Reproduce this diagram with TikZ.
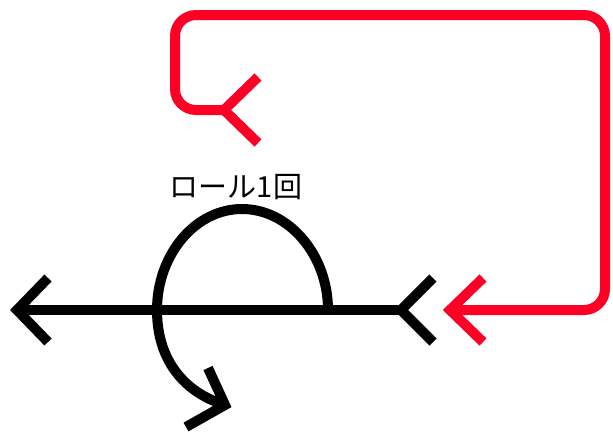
\documentclass[tikz,border=0pt]{standalone}
\usepackage{fontspec}
\newfontfamily\jpfont{Noto Sans CJK JP}
\usetikzlibrary{positioning}
\definecolor{rollred}{RGB}{252,0,38}

\begin{document}
\begin{tikzpicture}[x=1pt, y=-1pt,
  axis/.style={line width=10pt, draw=black},
  loop/.style={line width=10pt, draw=rollred, rounded corners=21pt},
  barb/.style={line join=miter, miter limit=10},
  lbl/.style={font=\jpfont\fontsize{29}{32}\selectfont, inner sep=0pt}]
\useasboundingbox (0,0) rectangle (613,440);
% roll axis with nose and fletching
\coordinate (nose) at (17,310);
\coordinate (tail) at (401,310);
\draw[axis] (nose) -- (tail);
\draw[axis, barb] (48,278) -- (nose) -- (48,342);
\draw[axis, barb] (433,278) -- (tail) -- (433,342);
% one roll
\coordinate (rollA) at (328,310);
\coordinate (rollB) at (157,310);
\coordinate (rollC) at (225,405);
\draw[axis] (rollA) .. controls (328,255) and (289,209) .. (242,209)
  .. controls (195,209) and (157,255) .. (rollB)
  .. controls (157,362) and (186,393) .. (rollC);
\draw[axis, barb] (208,368) -- (rollC) -- (186,427);
\node[lbl] (roll) at (236,187) {ロール1回};
% back to start
\coordinate (redtail) at (224,110);
\coordinate (redtip) at (450,310);
\draw[loop] (redtail) -- (175,110) -- (175,15) -- (605,15) -- (605,310) -- (redtip);
\draw[axis, draw=rollred, barb] (258,77) -- (redtail) -- (258,143);
\draw[axis, draw=rollred, barb] (483,278) -- (redtip) -- (483,342);
\end{tikzpicture}
\end{document}
